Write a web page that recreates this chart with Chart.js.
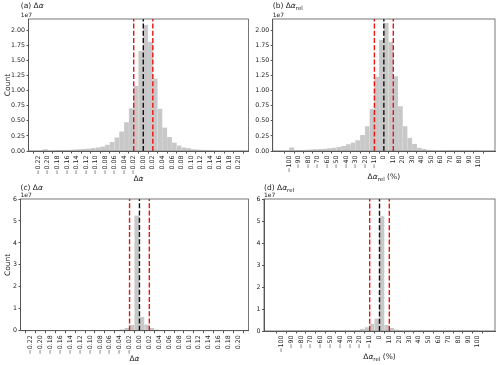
<!DOCTYPE html>
<html>
<head>
<meta charset="utf-8">
<script src="https://cdn.jsdelivr.net/npm/chart.js@4/dist/chart.umd.min.js"></script>
<style>
  body { margin: 0; background: #fff; }
  #wrap { position: relative; width: 500px; height: 365px; overflow: hidden; }
  canvas { position: absolute; }
</style>
</head>
<body>
<div id="wrap">
  <canvas id="pa" width="250" height="182" style="left:0;top:0"></canvas>
  <canvas id="pb" width="250" height="182" style="left:250px;top:0"></canvas>
  <canvas id="pc" width="250" height="183" style="left:0;top:182px"></canvas>
  <canvas id="pd" width="250" height="183" style="left:250px;top:182px"></canvas>
</div>
<script>
// bin centres (bins of 0.01 for delta alpha, 5 % for relative)
const absCentres = [-0.215, -0.205, -0.195, -0.185, -0.175, -0.165, -0.155, -0.145, -0.135, -0.125,
  -0.115, -0.105, -0.095, -0.085, -0.075, -0.065, -0.055, -0.045, -0.035, -0.025, -0.015, -0.005,
  0.005, 0.015, 0.025, 0.035, 0.045, 0.055, 0.065, 0.075, 0.085, 0.095, 0.105, 0.115, 0.125,
  0.135, 0.145, 0.155, 0.165, 0.175, 0.185, 0.195, 0.205];
const relCentres = [-97.5, -92.5, -87.5, -82.5, -77.5, -72.5, -67.5, -62.5, -57.5, -52.5,
  -47.5, -42.5, -37.5, -32.5, -27.5, -22.5, -17.5, -12.5, -7.5, -2.5,
  2.5, 7.5, 12.5, 17.5, 22.5, 27.5, 32.5, 37.5, 42.5, 47.5,
  52.5, 57.5, 62.5, 67.5, 72.5, 77.5, 82.5, 87.5, 92.5, 97.5];

// counts, in units of 1e7
const countsA = [0.004, 0.03, 0.008, 0.013, 0.015, 0.018, 0.02, 0.024, 0.028, 0.033,
  0.04, 0.048, 0.06, 0.075, 0.105, 0.15, 0.225, 0.325, 0.475, 0.71, 1.08, 1.66,
  2.09, 1.81, 1.20, 0.70, 0.39, 0.23, 0.14, 0.09, 0.06, 0.045, 0.03, 0.025, 0.02,
  0.015, 0.012, 0.01, 0.01, 0.008, 0.007, 0.006, 0.005];
const countsB = [0.06, 0.015, 0.017, 0.02, 0.024, 0.028, 0.032, 0.038, 0.045, 0.055,
  0.066, 0.083, 0.11, 0.14, 0.18, 0.265, 0.41, 0.70, 1.23, 1.84,
  2.12, 1.81, 1.24, 0.74, 0.41, 0.22, 0.115, 0.055, 0.033, 0.02,
  0.012, 0.008, 0.006, 0.005, 0.004, 0.004, 0.003, 0.003, 0.003, 0.002];
const countsC = [0.002, 0.004, 0.002, 0.002, 0.002, 0.002, 0.002, 0.002, 0.003, 0.003,
  0.003, 0.003, 0.004, 0.004, 0.005, 0.006, 0.01, 0.03, 0.06, 0.12, 0.26, 5.25,
  0.64, 0.28, 0.12, 0.05, 0.02, 0.01, 0.006, 0.004, 0.003, 0.003, 0.002, 0.002, 0.002,
  0.002, 0.002, 0.002, 0.002, 0.002, 0.002, 0.002, 0.002];
const countsD = [0.006, 0.002, 0.002, 0.002, 0.002, 0.003, 0.003, 0.003, 0.004, 0.004,
  0.005, 0.006, 0.008, 0.012, 0.03, 0.05, 0.10, 0.17, 0.33, 0.57,
  5.22, 0.27, 0.14, 0.07, 0.03, 0.015, 0.008, 0.005, 0.004, 0.003,
  0.002, 0.002, 0.002, 0.002, 0.002, 0.002, 0.002, 0.002, 0.002, 0.002];

// tick labels and reference lines
const absTicks = [-0.22, -0.20, -0.18, -0.16, -0.14, -0.12, -0.10, -0.08, -0.06, -0.04, -0.02,
  0.00, 0.02, 0.04, 0.06, 0.08, 0.10, 0.12, 0.14, 0.16, 0.18, 0.20];
const relTicks = [-100, -90, -80, -70, -60, -50, -40, -30, -20, -10, 0, 10, 20, 30, 40, 50, 60, 70, 80, 90, 100];
const topYTicks = [0, 0.25, 0.5, 0.75, 1.0, 1.25, 1.5, 1.75, 2.0];
const bottomYTicks = [0, 1, 2, 3, 4, 5, 6];
const absLines = [-0.02, 0, 0.02];
const relLines = [-10, 0, 10];

const FONT = '"DejaVu Sans"';
const minus = s => s.replace('-', '\u2212');

function drawRuns(ctx, runs, x, y, align) {
  const fonts = runs.map(r => (r.i ? 'italic ' : '') + (r.s || 7.5) + 'px ' + FONT);
  let w = 0;
  runs.forEach((r, k) => { ctx.font = fonts[k]; w += ctx.measureText(r.t).width; });
  let cx = align === 'center' ? x - w / 2 : x;
  ctx.textAlign = 'left';
  ctx.textBaseline = 'alphabetic';
  runs.forEach((r, k) => {
    ctx.font = fonts[k];
    ctx.fillText(r.t, cx, y + (r.dy || 0));
    cx += ctx.measureText(r.t).width;
  });
}

const frame = {
  id: 'frame',
  afterDatasetsDraw(chart) {
    const a = chart.chartArea, ctx = chart.ctx;
    ctx.save();
    ctx.strokeStyle = '#555';
    ctx.lineWidth = 0.8;
    ctx.strokeRect(a.left, a.top, a.right - a.left, a.bottom - a.top);
    ctx.restore();
  }
};

const panelText = {
  id: 'panelText',
  afterDraw(chart, args, o) {
    const ctx = chart.ctx, a = chart.chartArea;
    const tx = o.titleX != null ? o.titleX : a.left;
    ctx.save();
    ctx.fillStyle = '#222';
    drawRuns(ctx, o.title, tx, 8, 'left');
    drawRuns(ctx, [{t: '1e7', s: 6}], tx, a.top - 2, 'left');
    drawRuns(ctx, o.xlabel, (a.left + a.right) / 2, o.xlabelY, 'center');
    if (o.ylabel) {
      ctx.translate(7, (a.top + a.bottom) / 2);
      ctx.rotate(-Math.PI / 2);
      drawRuns(ctx, [{t: o.ylabel}], 0, 2.5, 'center');
    }
    ctx.restore();
  }
};

function makePanel(id, p) {
  const canvas = document.getElementById(id);
  const W = canvas.width, H = canvas.height;
  const lineSets = p.lines.map(v => ({
    type: 'line',
    data: [{x: v, y: 0}, {x: v, y: p.ymax}],
    borderColor: v === 0 ? '#111' : '#ee1111',
    borderWidth: 1.4,
    borderDash: [5, 2.2],
    pointRadius: 0,
    order: 0
  }));
  new Chart(canvas, {
    type: 'bar',
    data: {
      datasets: [...lineSets, {
        type: 'bar',
        data: p.centres.map((x, i) => ({x: x, y: p.counts[i]})),
        backgroundColor: '#c8c8c8',
        borderColor: '#dcdcdc',
        borderWidth: {left: 0.5, right: 0, top: 0, bottom: 0},
        barPercentage: 1,
        categoryPercentage: 1,
        order: 1
      }]
    },
    options: {
      responsive: false,
      animation: false,
      layout: {padding: {top: p.area.top, right: W - p.area.right, left: 0, bottom: 0}},
      plugins: {
        legend: {display: false},
        tooltip: {enabled: false},
        panelText: p.text
      },
      scales: {
        x: {
          type: 'linear',
          min: p.xmin, max: p.xmax,
          afterBuildTicks: s => { s.ticks = p.xticks.map(v => ({value: v})); },
          afterFit: s => { s.height = H - p.area.bottom; s.paddingLeft = 0; s.paddingRight = 0; },
          grid: {drawOnChartArea: false, drawTicks: true, tickLength: 2.5, color: '#555'},
          border: {color: '#555'},
          ticks: {
            autoSkip: false, minRotation: 90, maxRotation: 90, padding: 2,
            color: '#222', font: {family: FONT, size: 6.3},
            callback: v => minus(p.xfmt(v))
          }
        },
        y: {
          min: 0, max: p.ymax,
          afterBuildTicks: s => { s.ticks = p.yticks.map(v => ({value: v})); },
          afterFit: s => { s.width = p.area.left; s.paddingTop = 0; s.paddingBottom = 0; },
          grid: {drawOnChartArea: false, drawTicks: true, tickLength: 2, color: '#555'},
          border: {color: '#555'},
          ticks: {
            padding: 1.5, color: '#222', font: {family: FONT, size: 6.3},
            callback: v => p.yfmt(v)
          }
        }
      }
    },
    plugins: [frame, panelText]
  });
}

const fmtAbs = v => v.toFixed(2);
const fmtRel = v => String(Math.round(v));

makePanel('pa', {
  centres: absCentres, counts: countsA, lines: absLines, xticks: absTicks, yticks: topYTicks,
  xmin: -0.23, xmax: 0.21, ymax: 2.187, xfmt: fmtAbs, yfmt: v => v.toFixed(2),
  area: {left: 28.5, top: 19, right: 248.5, bottom: 151},
  text: {title: [{t: '(a) '}, {t: 'Δ'}, {t: 'α', i: true}], titleX: 20.7,
         xlabel: [{t: 'Δ'}, {t: 'α', i: true}], xlabelY: 181, ylabel: 'Count'}
});
makePanel('pb', {
  centres: relCentres, counts: countsB, lines: relLines, xticks: relTicks, yticks: topYTicks,
  xmin: -112, xmax: 112, ymax: 2.187, xfmt: fmtRel, yfmt: v => v.toFixed(2),
  area: {left: 22.7, top: 19, right: 245, bottom: 151},
  text: {title: [{t: '(b) '}, {t: 'Δ'}, {t: 'α', i: true}, {t: 'rel', s: 5.5, dy: 1.5}],
         xlabel: [{t: 'Δ'}, {t: 'α', i: true}, {t: 'rel', s: 5.5, dy: 1.5}, {t: ' (%)'}], xlabelY: 179}
});
makePanel('pc', {
  centres: absCentres, counts: countsC, lines: absLines, xticks: absTicks, yticks: bottomYTicks,
  xmin: -0.23, xmax: 0.21, ymax: 6, xfmt: fmtAbs, yfmt: v => String(v),
  area: {left: 20.5, top: 17, right: 248.5, bottom: 148.7},
  text: {title: [{t: '(c) '}, {t: 'Δ'}, {t: 'α', i: true}],
         xlabel: [{t: 'Δ'}, {t: 'α', i: true}], xlabelY: 179, ylabel: 'Count'}
});
makePanel('pd', {
  centres: relCentres, counts: countsD, lines: relLines, xticks: relTicks, yticks: bottomYTicks,
  xmin: -112, xmax: 112, ymax: 6, xfmt: fmtRel, yfmt: v => String(v),
  area: {left: 14, top: 17, right: 245, bottom: 149},
  text: {title: [{t: '(d) '}, {t: 'Δ'}, {t: 'α', i: true}, {t: 'rel', s: 5.5, dy: 1.5}],
         xlabel: [{t: 'Δ'}, {t: 'α', i: true}, {t: 'rel', s: 5.5, dy: 1.5}, {t: ' (%)'}], xlabelY: 177}
});
</script>
</body>
</html>
